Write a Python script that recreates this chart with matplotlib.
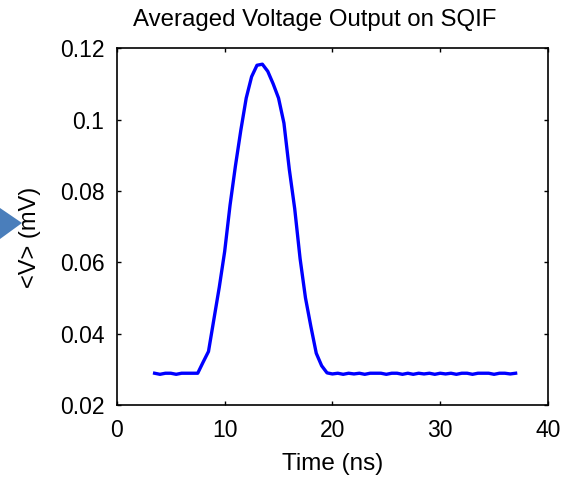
import matplotlib.pyplot as plt
from matplotlib.patches import Polygon

# Data
time_ns = [3.5, 4.0, 4.5, 5.0, 5.5, 6.0, 6.5, 7.0, 7.5, 8.0, 8.5, 9.0, 9.5, 10.0,
           10.5, 11.0, 11.5, 12.0, 12.5, 13.0, 13.5, 14.0, 14.5, 15.0, 15.5, 16.0,
           16.5, 17.0, 17.5, 18.0, 18.5, 19.0, 19.5, 20.0, 20.5, 21.0, 21.5, 22.0,
           22.5, 23.0, 23.5, 24.0, 24.5, 25.0, 25.5, 26.0, 26.5, 27.0, 27.5, 28.0,
           28.5, 29.0, 29.5, 30.0, 30.5, 31.0, 31.5, 32.0, 32.5, 33.0, 33.5, 34.0,
           34.5, 35.0, 35.5, 36.0, 36.5, 37.0]
voltage_mv = [0.0289, 0.0286, 0.0289, 0.0289, 0.0286, 0.0289, 0.0289, 0.0289, 0.0289,
              0.0320, 0.0350, 0.0440, 0.0530, 0.0630, 0.0760, 0.0870, 0.0970, 0.1060,
              0.1120, 0.1152, 0.1155, 0.1135, 0.1100, 0.1060, 0.0990, 0.0860, 0.0750,
              0.0610, 0.0500, 0.0420, 0.0345, 0.0310, 0.0290, 0.0287, 0.0289, 0.0286,
              0.0289, 0.0287, 0.0289, 0.0286, 0.0289, 0.0289, 0.0289, 0.0286, 0.0289,
              0.0289, 0.0286, 0.0289, 0.0286, 0.0289, 0.0287, 0.0289, 0.0286, 0.0289,
              0.0287, 0.0289, 0.0286, 0.0289, 0.0289, 0.0286, 0.0289, 0.0289, 0.0289,
              0.0286, 0.0289, 0.0289, 0.0287, 0.0289]

x_ticks = [0, 10, 20, 30, 40]
y_ticks = [0.02, 0.04, 0.06, 0.08, 0.1, 0.12]
y_tick_labels = ['0.02', '0.04', '0.06', '0.08', '0.1', '0.12']

plt.rcParams['font.family'] = ['Liberation Sans', 'DejaVu Sans']

fig = plt.figure(figsize=(5.62, 4.79), dpi=100)
ax = fig.add_axes([0.208, 0.1545, 0.767, 0.745])

ax.plot(time_ns, voltage_mv, color='#0000ff', linewidth=2.4)

ax.set_xlim(0, 40)
ax.set_ylim(0.02, 0.12)
ax.set_xticks(x_ticks)
ax.set_yticks(y_ticks)
ax.set_yticklabels(y_tick_labels)
ax.tick_params(direction='in', top=True, right=True, labelsize=16.5, length=3, width=1)
ax.tick_params(axis='x', pad=10)
ax.tick_params(axis='y', pad=9)
for s in ax.spines.values():
    s.set_linewidth(1.2)

ax.set_title('Averaged Voltage Output on SQIF', fontsize=17.3, pad=16, x=0.46)
ax.set_xlabel('Time (ns)', fontsize=17.5, labelpad=8)
ax.set_ylabel('<V> (mV)', fontsize=17)
ax.yaxis.set_label_coords(-0.175, 0.47)

# blue slide arrow tip on the left edge
fig.patches.append(Polygon([[0.0, 1 - 208 / 479], [0.0, 1 - 239 / 479], [22 / 562, 1 - 223 / 479]],
                           closed=True, transform=fig.transFigure, facecolor='#4a7ebb',
                           edgecolor='none'))

plt.savefig('out.png', dpi=100)
